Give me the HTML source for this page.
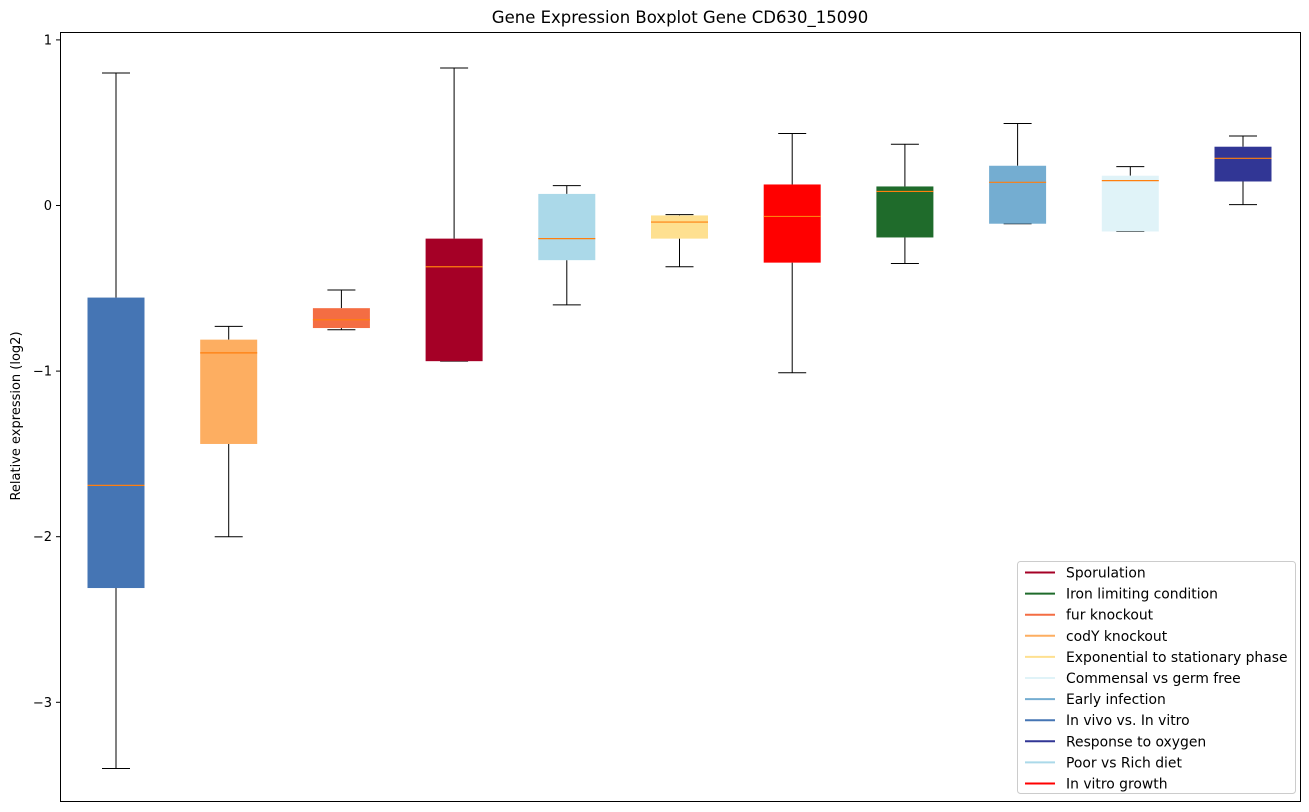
<!DOCTYPE html>
<html><head><meta charset="utf-8"><style>
html,body{margin:0;padding:0;background:#fff;}
svg{display:block;font-family:"DejaVu Sans","Liberation Sans",sans-serif;}
</style></head><body>
<svg id="chart" width="1309" height="812">
<text x="680" y="23" text-anchor="middle" font-size="16.5">Gene Expression Boxplot Gene CD630_15090</text>
<text transform="translate(20,416) rotate(-90)" text-anchor="middle" font-size="13">Relative expression (log2)</text>
<g id="marks"></g>
<g id="yaxis"></g>
<rect x="60.5" y="32.5" width="1240" height="769" fill="none" stroke="#000" stroke-width="1"/>
<g id="legend"></g>
</svg>
<script>
const categories=["In vivo vs. In vitro","codY knockout","fur knockout","Sporulation","Poor vs Rich diet","Exponential to stationary phase","In vitro growth","Iron limiting condition","Early infection","Commensal vs germ free","Response to oxygen"];
const whiskerLow=[-3.40,-2.0,-0.75,-0.94,-0.60,-0.37,-1.01,-0.35,-0.11,-0.157,0.005];
const q1Values=[-2.31,-1.44,-0.74,-0.94,-0.33,-0.20,-0.345,-0.193,-0.11,-0.157,0.145];
const medianValues=[-1.69,-0.89,-0.69,-0.37,-0.20,-0.10,-0.066,0.085,0.14,0.15,0.285];
const q3Values=[-0.556,-0.81,-0.62,-0.20,0.07,-0.06,0.127,0.115,0.24,0.18,0.355];
const whiskerHigh=[0.80,-0.73,-0.51,0.83,0.12,-0.055,0.435,0.37,0.495,0.235,0.42];
const colors=["#4575b4","#fdae61","#f46d43","#a50026","#abd9e9","#fee090","#ff0000","#1f6b2b","#74add1","#e0f3f8","#313695"];
const yTicks=[1,0,-1,-2,-3];
const legendLabels=["Sporulation","Iron limiting condition","fur knockout","codY knockout","Exponential to stationary phase","Commensal vs germ free","Early infection","In vivo vs. In vitro","Response to oxygen","Poor vs Rich diet","In vitro growth"];
const legendColors=["#a50026","#1f6b2b","#f46d43","#fdae61","#fee090","#e0f3f8","#74add1","#4575b4","#313695","#abd9e9","#ff0000"];

const NS="http://www.w3.org/2000/svg";
const y=v=>205.5-v*165.6;
const x=i=>116+i*112.7;
function mk(tag,attrs,parent){const e=document.createElementNS(NS,tag);for(const k in attrs)e.setAttribute(k,attrs[k]);parent.appendChild(e);return e;}
const marks=document.getElementById('marks');
categories.forEach((c,i)=>{
  const g=mk('g',{},marks);
  
  
  const cx=x(i),hw=28.5,cw=14;
  mk('line',{x1:cx,x2:cx,y1:y(q3Values[i]),y2:y(whiskerHigh[i]),stroke:'#000'},g);
  mk('line',{x1:cx,x2:cx,y1:y(q1Values[i]),y2:y(whiskerLow[i]),stroke:'#000'},g);
  mk('line',{x1:cx-cw,x2:cx+cw,y1:y(whiskerHigh[i]),y2:y(whiskerHigh[i]),stroke:'#000'},g);
  mk('line',{x1:cx-cw,x2:cx+cw,y1:y(whiskerLow[i]),y2:y(whiskerLow[i]),stroke:'#000'},g);
  const top=y(q3Values[i]),bot=y(q1Values[i]);
  mk('rect',{x:cx-hw,y:top,width:2*hw,height:Math.max(bot-top,1),fill:colors[i]},g);
  mk('line',{x1:cx-hw,x2:cx+hw,y1:y(medianValues[i]),y2:y(medianValues[i]),stroke:'#ff7f0e','stroke-width':1.2},g);
});
const ya=document.getElementById('yaxis');
yTicks.forEach(t=>{
  const g=mk('g',{},ya);
  
  
  mk('line',{x1:56,x2:60,y1:y(t),y2:y(t),stroke:'#000'},g);
  const tx=mk('text',{x:52,y:y(t)+4.5,'text-anchor':'end','font-size':13},g);
  tx.textContent=t<0?'\u2212'+Math.abs(t):String(t);
});
const lg=document.getElementById('legend');
const box=mk('rect',{x:1017.5,y:561.5,width:278,height:232,rx:3,fill:'#fff','fill-opacity':0.85,stroke:'#ccc'},lg);


legendLabels.forEach((l,i)=>{
  const g=mk('g',{},lg);
  
  
  const yy=572.5+i*21.1;
  mk('line',{x1:1025,x2:1055,y1:yy,y2:yy,stroke:legendColors[i],'stroke-width':2},g);
  const t=mk('text',{x:1066,y:yy+5,'font-size':13.9},g);
  t.textContent=l;
});
</script>
</body></html>
